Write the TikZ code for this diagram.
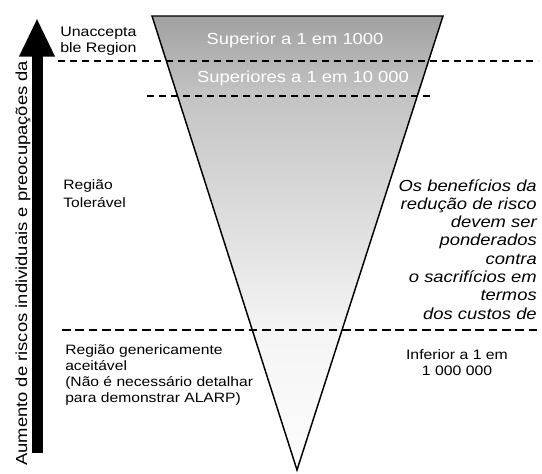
\documentclass[tikz,border=0pt]{standalone}
\usepackage{fontspec}
\setmainfont{Liberation Sans}[FakeStretch=1.15]
\usetikzlibrary{arrows.meta}
\pgfdeclareverticalshading{riskfade}{100bp}{
    color(0bp)=(black!1); color(25bp)=(black!1); color(40bp)=(black!4);
    color(51bp)=(black!12); color(66bp)=(black!23); color(70bp)=(black!29);
    color(75bp)=(black!37); color(100bp)=(black!37)}

\begin{document}
\begin{tikzpicture}[x=0.75pt, y=-0.75pt,
    every node/.style={inner sep=0pt},
    smalltxt/.style={font=\fontsize{10.2pt}{11.8pt}\selectfont},
    bigtxt/.style={font=\fontsize{12pt}{13.7pt}\selectfont},
    thindash/.style={line width=1.2pt, dash pattern=on 5.5pt off 3.5pt},
    thickdash/.style={line width=2.2pt, dash pattern=on 6.5pt off 3.5pt}]
    \useasboundingbox (0,0) rectangle (542,474);

    \coordinate (tl) at (152,16);
    \coordinate (tr) at (443,16);
    \coordinate (apex) at (297,470);
    \shadedraw[shading=riskfade, draw=black, line width=1.1pt]
        (tl) -- (tr) -- (apex) -- cycle;

    \coordinate (d1a) at (58,61);
    \coordinate (d1b) at (538,61);
    \coordinate (d2a) at (147,96);
    \coordinate (d2b) at (434,96);
    \coordinate (d3a) at (62,330);
    \coordinate (d3b) at (538,330);
    \draw[thindash] (d1a) -- (d1b);
    \draw[thindash] (d2a) -- (d2b);
    \draw[thickdash] (d3a) -- (d3b);

    \coordinate (arrbot) at (37,453);
    \coordinate (arrtop) at (37,18);
    \draw[line width=8.25pt, -{Triangle[length=29pt, width=24.75pt]}] (arrbot) -- (arrtop);

    \node[bigtxt, rotate=90, anchor=base west] (aumento) at (27,466) {Aumento de riscos individuais e preocupações da};

    \node[smalltxt, font=\fontsize{10.4pt}{12.4pt}\selectfont, align=left, anchor=base west] (unacc) at (60,53) {Unaccepta\\ble Region};
    \node[bigtxt, text=white, anchor=base] (sup1) at (295,45) {Superior a 1 em 1000};
    \node[bigtxt, text=white, anchor=base] (sup2) at (303,82.7) {Superiores a 1 em 10 000};
    \node[smalltxt, font=\fontsize{10.2pt}{13pt}\selectfont, align=left, anchor=base west] (toler) at (63,207) {Região\\Tolerável};
    \node[bigtxt, font=\itshape\fontsize{12pt}{13.7pt}\selectfont, align=right, anchor=base east] (ponder) at (537,319) {Os benefícios da\\redução de risco\\devem ser\\ponderados\\contra\\o sacrifícios em\\termos\\dos custos de};
    \begin{scope}
        \clip (0,0) rectangle (300,405);
        \node[smalltxt, align=left, anchor=base west] (aceit) at (65,402) {Região genericamente\\aceitável\\(Não é necessário detalhar\\para demonstrar ALARP)};
    \end{scope}
    \node[smalltxt, font=\fontsize{10.3pt}{11.3pt}\selectfont, align=center, anchor=base] (inferior) at (457,375) {Inferior a 1 em\\1 000 000};
\end{tikzpicture}
\end{document}
